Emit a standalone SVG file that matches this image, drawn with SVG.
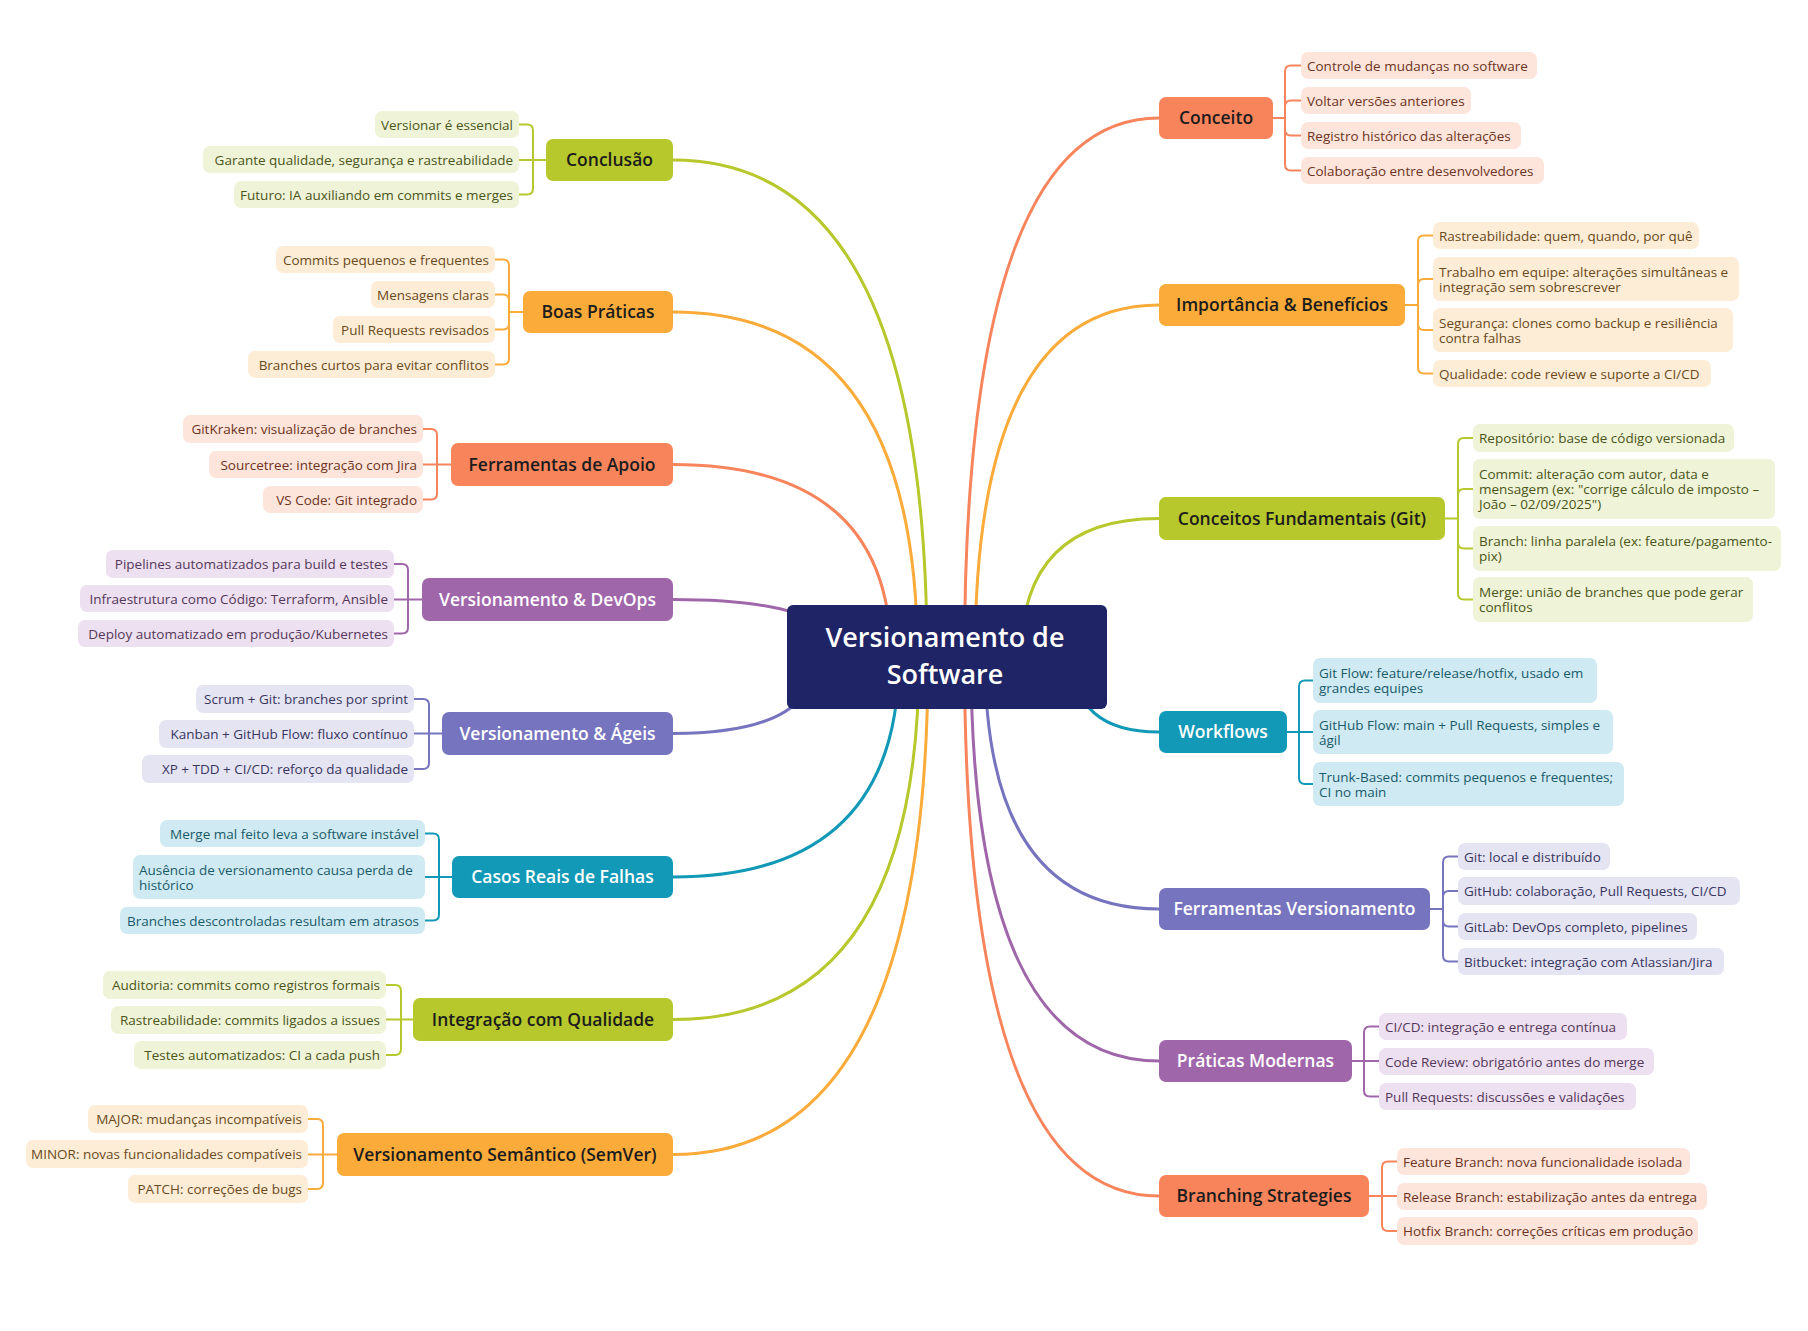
<svg xmlns="http://www.w3.org/2000/svg" width="1808" height="1331" viewBox="0 0 1808 1331">
<style>
text{font-family:'Open Sans','Noto Sans',sans-serif}
.main{font-size:17.5px;font-weight:600;text-anchor:middle}
.dk{fill:#1c1c1c}.wt{fill:#ffffff}
.ch{font-size:13.5px}
.end{text-anchor:end}
.ln{fill:none;stroke-width:3;stroke-linecap:round}
.br{fill:none;stroke-width:2}
.coral{fill:#F8845C}.amber{fill:#FBAB3A}.olive{fill:#B6C82B}.teal{fill:#1299B7}.indigo{fill:#7774BF}.purple{fill:#A066AA}
.s-coral{stroke:#F8845C}.s-amber{stroke:#FBAB3A}.s-olive{stroke:#B6C82B}.s-teal{stroke:#1299B7}.s-indigo{stroke:#7774BF}.s-purple{stroke:#A066AA}
.l-coral{fill:#FDE5DB}.l-amber{fill:#FEEDD6}.l-olive{fill:#EFF3D7}.l-teal{fill:#CFEAF2}.l-indigo{fill:#E5E4F3}.l-purple{fill:#EDE0F0}
.t-coral{fill:#6E3322}.t-amber{fill:#6A4A1C}.t-olive{fill:#4B561A}.t-teal{fill:#1B5B6A}.t-indigo{fill:#38365E}.t-purple{fill:#54385A}
</style>
<rect width="1808" height="1331" fill="#ffffff"/>
<g id="connectors">
<path class="ln s-coral" d="M964.5 657 Q964.5 118 1159 118"/>
<path class="ln s-amber" d="M975 657 Q975 305 1159 305"/>
<path class="ln s-olive" d="M1021 657 Q1021 518.5 1159 518.5"/>
<path class="ln s-teal" d="M1073 657 Q1073 732 1159 732"/>
<path class="ln s-indigo" d="M985 657 Q985 909 1159 909"/>
<path class="ln s-purple" d="M971 657 Q971 1061 1159 1061"/>
<path class="ln s-coral" d="M964.5 657 Q964.5 1196 1159 1196"/>
<path class="ln s-olive" d="M927 657 Q927 160 673 160"/>
<path class="ln s-amber" d="M917.5 657 Q917.5 312 673 312"/>
<path class="ln s-coral" d="M891 657 Q891 464.5 673 464.5"/>
<path class="ln s-purple" d="M839 657 Q839 599.5 673 599.5"/>
<path class="ln s-indigo" d="M816 657 Q816 733.5 673 733.5"/>
<path class="ln s-teal" d="M899 657 Q899 877 673 877"/>
<path class="ln s-olive" d="M919 657 Q919 1019.5 673 1019.5"/>
<path class="ln s-amber" d="M928 657 Q928 1154.5 673 1154.5"/>
<path class="br s-coral" d="M1273 118 H1285 V71.5 Q1285 65.5 1291 65.5 H1301 M1285 118 V106.5 Q1285 100.5 1291 100.5 H1301 M1285 118 V129.5 Q1285 135.5 1291 135.5 H1301 M1285 118 V164.5 Q1285 170.5 1291 170.5 H1301"/>
<path class="br s-amber" d="M1405 305 H1418 V241.5 Q1418 235.5 1424 235.5 H1433 M1418 305 V285 Q1418 279 1424 279 H1433 M1418 305 V324 Q1418 330 1424 330 H1433 M1418 305 V367.5 Q1418 373.5 1424 373.5 H1433"/>
<path class="br s-olive" d="M1445 518.5 H1458 V444 Q1458 438 1464 438 H1473 M1458 518.5 V495 Q1458 489 1464 489 H1473 M1458 518.5 V542.5 Q1458 548.5 1464 548.5 H1473 M1458 518.5 V593.5 Q1458 599.5 1464 599.5 H1473"/>
<path class="br s-teal" d="M1287 732 H1313 M1299 732 V686.5 Q1299 680.5 1305 680.5 H1313 M1299 732 V778 Q1299 784 1305 784 H1313"/>
<path class="br s-indigo" d="M1430 909 H1443 V862.5 Q1443 856.5 1449 856.5 H1458 M1443 909 V897 Q1443 891 1449 891 H1458 M1443 909 V920.5 Q1443 926.5 1449 926.5 H1458 M1443 909 V955.5 Q1443 961.5 1449 961.5 H1458"/>
<path class="br s-purple" d="M1352 1061 H1379 M1364 1061 V1032.5 Q1364 1026.5 1370 1026.5 H1379 M1364 1061 V1090.5 Q1364 1096.5 1370 1096.5 H1379"/>
<path class="br s-coral" d="M1369 1196 H1397 M1382 1196 V1167.5 Q1382 1161.5 1388 1161.5 H1397 M1382 1196 V1225 Q1382 1231 1388 1231 H1397"/>
<path class="br s-olive" d="M546 160 H519 M533 160 V130.5 Q533 124.5 527 124.5 H519 M533 160 V188.5 Q533 194.5 527 194.5 H519"/>
<path class="br s-amber" d="M523 312 H509 V265.5 Q509 259.5 503 259.5 H495 M509 312 V300.5 Q509 294.5 503 294.5 H495 M509 312 V323.5 Q509 329.5 503 329.5 H495 M509 312 V358.5 Q509 364.5 503 364.5 H495"/>
<path class="br s-coral" d="M451 464.5 H423 M437 464.5 V435 Q437 429 431 429 H423 M437 464.5 V493.5 Q437 499.5 431 499.5 H423"/>
<path class="br s-purple" d="M422 599.5 H394 M408 599.5 V570 Q408 564 402 564 H394 M408 599.5 V627.5 Q408 633.5 402 633.5 H394"/>
<path class="br s-indigo" d="M442 733.5 H414 M429 733.5 V705 Q429 699 423 699 H414 M429 733.5 V763 Q429 769 423 769 H414"/>
<path class="br s-teal" d="M452 877 H425 M439 877 V839.5 Q439 833.5 433 833.5 H425 M439 877 V914.5 Q439 920.5 433 920.5 H425"/>
<path class="br s-olive" d="M413 1019.5 H386 M401 1019.5 V991 Q401 985 395 985 H386 M401 1019.5 V1049 Q401 1055 395 1055 H386"/>
<path class="br s-amber" d="M337 1154.5 H308 M323 1154.5 V1125 Q323 1119 317 1119 H308 M323 1154.5 V1183 Q323 1189 317 1189 H308"/>
</g>
<g id="center">
<rect x="787" y="605" width="320" height="104" rx="6" fill="#1F2466"/>
<text x="945" y="647" font-size="27" font-weight="600" text-anchor="middle" fill="#ffffff">Versionamento de<tspan x="945" dy="37">Software</tspan></text>
</g>
<g id="conceito">
<rect class="coral" x="1159" y="97" width="114" height="42" rx="7"/>
<text class="main dk" x="1216" y="124">Conceito</text>
<rect class="l-coral" x="1301" y="52" width="236" height="27" rx="7"/>
<text class="ch t-coral" x="1307" y="70.5">Controle de mudanças no software</text>
<rect class="l-coral" x="1301" y="87" width="170" height="27" rx="7"/>
<text class="ch t-coral" x="1307" y="105.5">Voltar versões anteriores</text>
<rect class="l-coral" x="1301" y="122" width="220" height="27" rx="7"/>
<text class="ch t-coral" x="1307" y="140.5">Registro histórico das alterações</text>
<rect class="l-coral" x="1301" y="157" width="243" height="27" rx="7"/>
<text class="ch t-coral" x="1307" y="175.5">Colaboração entre desenvolvedores</text>
</g>
<g id="importancia">
<rect class="amber" x="1159" y="284" width="246" height="42" rx="7"/>
<text class="main dk" x="1282" y="311">Importância &amp; Benefícios</text>
<rect class="l-amber" x="1433" y="222" width="266" height="27" rx="7"/>
<text class="ch t-amber" x="1439" y="240.5">Rastreabilidade: quem, quando, por quê</text>
<rect class="l-amber" x="1433" y="257" width="306" height="44" rx="7"/>
<text class="ch t-amber" x="1439" y="276.5">Trabalho em equipe: alterações simultâneas e<tspan x="1439" dy="15">integração sem sobrescrever</tspan></text>
<rect class="l-amber" x="1433" y="308" width="300" height="44" rx="7"/>
<text class="ch t-amber" x="1439" y="327.5">Segurança: clones como backup e resiliência<tspan x="1439" dy="15">contra falhas</tspan></text>
<rect class="l-amber" x="1433" y="360" width="278" height="27" rx="7"/>
<text class="ch t-amber" x="1439" y="378.5">Qualidade: code review e suporte a CI/CD</text>
</g>
<g id="conceitos-fundamentais">
<rect class="olive" x="1159" y="497" width="286" height="43" rx="7"/>
<text class="main dk" x="1302" y="524.5">Conceitos Fundamentais (Git)</text>
<rect class="l-olive" x="1473" y="424" width="261" height="28" rx="7"/>
<text class="ch t-olive" x="1479" y="443">Repositório: base de código versionada</text>
<rect class="l-olive" x="1473" y="459" width="302" height="60" rx="7"/>
<text class="ch t-olive" x="1479" y="479">Commit: alteração com autor, data e<tspan x="1479" dy="15">mensagem (ex: "corrige cálculo de imposto –</tspan><tspan x="1479" dy="15">João – 02/09/2025")</tspan></text>
<rect class="l-olive" x="1473" y="526" width="308" height="45" rx="7"/>
<text class="ch t-olive" x="1479" y="546">Branch: linha paralela (ex: feature/pagamento-<tspan x="1479" dy="15">pix)</tspan></text>
<rect class="l-olive" x="1473" y="577" width="280" height="45" rx="7"/>
<text class="ch t-olive" x="1479" y="597">Merge: união de branches que pode gerar<tspan x="1479" dy="15">conflitos</tspan></text>
</g>
<g id="workflows">
<rect class="teal" x="1159" y="711" width="128" height="42" rx="7"/>
<text class="main wt" x="1223" y="738">Workflows</text>
<rect class="l-teal" x="1313" y="658" width="284" height="45" rx="7"/>
<text class="ch t-teal" x="1319" y="678">Git Flow: feature/release/hotfix, usado em<tspan x="1319" dy="15">grandes equipes</tspan></text>
<rect class="l-teal" x="1313" y="710" width="300" height="44" rx="7"/>
<text class="ch t-teal" x="1319" y="729.5">GitHub Flow: main + Pull Requests, simples e<tspan x="1319" dy="15">ágil</tspan></text>
<rect class="l-teal" x="1313" y="762" width="311" height="44" rx="7"/>
<text class="ch t-teal" x="1319" y="781.5">Trunk-Based: commits pequenos e frequentes;<tspan x="1319" dy="15">CI no main</tspan></text>
</g>
<g id="ferramentas-versionamento">
<rect class="indigo" x="1159" y="888" width="271" height="42" rx="7"/>
<text class="main wt" x="1294.5" y="915">Ferramentas Versionamento</text>
<rect class="l-indigo" x="1458" y="843" width="152" height="27" rx="7"/>
<text class="ch t-indigo" x="1464" y="861.5">Git: local e distribuído</text>
<rect class="l-indigo" x="1458" y="877" width="282" height="28" rx="7"/>
<text class="ch t-indigo" x="1464" y="896">GitHub: colaboração, Pull Requests, CI/CD</text>
<rect class="l-indigo" x="1458" y="913" width="239" height="27" rx="7"/>
<text class="ch t-indigo" x="1464" y="931.5">GitLab: DevOps completo, pipelines</text>
<rect class="l-indigo" x="1458" y="948" width="266" height="27" rx="7"/>
<text class="ch t-indigo" x="1464" y="966.5">Bitbucket: integração com Atlassian/Jira</text>
</g>
<g id="praticas-modernas">
<rect class="purple" x="1159" y="1040" width="193" height="42" rx="7"/>
<text class="main wt" x="1255.5" y="1067">Práticas Modernas</text>
<rect class="l-purple" x="1379" y="1013" width="248" height="27" rx="7"/>
<text class="ch t-purple" x="1385" y="1031.5">CI/CD: integração e entrega contínua</text>
<rect class="l-purple" x="1379" y="1048" width="275" height="27" rx="7"/>
<text class="ch t-purple" x="1385" y="1066.5">Code Review: obrigatório antes do merge</text>
<rect class="l-purple" x="1379" y="1083" width="257" height="27" rx="7"/>
<text class="ch t-purple" x="1385" y="1101.5">Pull Requests: discussões e validações</text>
</g>
<g id="branching-strategies">
<rect class="coral" x="1159" y="1175" width="210" height="42" rx="7"/>
<text class="main dk" x="1264" y="1202">Branching Strategies</text>
<rect class="l-coral" x="1397" y="1148" width="293" height="27" rx="7"/>
<text class="ch t-coral" x="1403" y="1166.5">Feature Branch: nova funcionalidade isolada</text>
<rect class="l-coral" x="1397" y="1183" width="310" height="27" rx="7"/>
<text class="ch t-coral" x="1403" y="1201.5">Release Branch: estabilização antes da entrega</text>
<rect class="l-coral" x="1397" y="1217" width="301" height="28" rx="7"/>
<text class="ch t-coral" x="1403" y="1236">Hotfix Branch: correções críticas em produção</text>
</g>
<g id="conclusao">
<rect class="olive" x="546" y="139" width="127" height="42" rx="7"/>
<text class="main dk" x="609.5" y="166">Conclusão</text>
<rect class="l-olive" x="375" y="111" width="144" height="27" rx="7"/>
<text class="ch t-olive end" x="513" y="129.5">Versionar é essencial</text>
<rect class="l-olive" x="203" y="146" width="316" height="27" rx="7"/>
<text class="ch t-olive end" x="513" y="164.5">Garante qualidade, segurança e rastreabilidade</text>
<rect class="l-olive" x="234" y="181" width="285" height="27" rx="7"/>
<text class="ch t-olive end" x="513" y="199.5">Futuro: IA auxiliando em commits e merges</text>
</g>
<g id="boas-praticas">
<rect class="amber" x="523" y="291" width="150" height="42" rx="7"/>
<text class="main dk" x="598" y="318">Boas Práticas</text>
<rect class="l-amber" x="276" y="246" width="219" height="27" rx="7"/>
<text class="ch t-amber end" x="489" y="264.5">Commits pequenos e frequentes</text>
<rect class="l-amber" x="371" y="281" width="124" height="27" rx="7"/>
<text class="ch t-amber end" x="489" y="299.5">Mensagens claras</text>
<rect class="l-amber" x="333" y="316" width="162" height="27" rx="7"/>
<text class="ch t-amber end" x="489" y="334.5">Pull Requests revisados</text>
<rect class="l-amber" x="248" y="351" width="247" height="27" rx="7"/>
<text class="ch t-amber end" x="489" y="369.5">Branches curtos para evitar conflitos</text>
</g>
<g id="ferramentas-apoio">
<rect class="coral" x="451" y="443" width="222" height="43" rx="7"/>
<text class="main dk" x="562" y="470.5">Ferramentas de Apoio</text>
<rect class="l-coral" x="183" y="415" width="240" height="28" rx="7"/>
<text class="ch t-coral end" x="417" y="434">GitKraken: visualização de branches</text>
<rect class="l-coral" x="209" y="451" width="214" height="27" rx="7"/>
<text class="ch t-coral end" x="417" y="469.5">Sourcetree: integração com Jira</text>
<rect class="l-coral" x="263" y="486" width="160" height="27" rx="7"/>
<text class="ch t-coral end" x="417" y="504.5">VS Code: Git integrado</text>
</g>
<g id="devops">
<rect class="purple" x="422" y="578" width="251" height="43" rx="7"/>
<text class="main wt" x="547.5" y="605.5">Versionamento &amp; DevOps</text>
<rect class="l-purple" x="106" y="550" width="288" height="28" rx="7"/>
<text class="ch t-purple end" x="388" y="569">Pipelines automatizados para build e testes</text>
<rect class="l-purple" x="80" y="585" width="314" height="27" rx="7"/>
<text class="ch t-purple end" x="388" y="603.5">Infraestrutura como Código: Terraform, Ansible</text>
<rect class="l-purple" x="78" y="620" width="316" height="27" rx="7"/>
<text class="ch t-purple end" x="388" y="638.5">Deploy automatizado em produção/Kubernetes</text>
</g>
<g id="ageis">
<rect class="indigo" x="442" y="712" width="231" height="43" rx="7"/>
<text class="main wt" x="557.5" y="739.5">Versionamento &amp; Ágeis</text>
<rect class="l-indigo" x="196" y="685" width="218" height="28" rx="7"/>
<text class="ch t-indigo end" x="408" y="704">Scrum + Git: branches por sprint</text>
<rect class="l-indigo" x="159" y="720" width="255" height="28" rx="7"/>
<text class="ch t-indigo end" x="408" y="739">Kanban + GitHub Flow: fluxo contínuo</text>
<rect class="l-indigo" x="142" y="755" width="272" height="28" rx="7"/>
<text class="ch t-indigo end" x="408" y="774">XP + TDD + CI/CD: reforço da qualidade</text>
</g>
<g id="casos-reais">
<rect class="teal" x="452" y="856" width="221" height="42" rx="7"/>
<text class="main wt" x="562.5" y="883">Casos Reais de Falhas</text>
<rect class="l-teal" x="160" y="820" width="265" height="27" rx="7"/>
<text class="ch t-teal end" x="419" y="838.5">Merge mal feito leva a software instável</text>
<rect class="l-teal" x="133" y="855" width="292" height="44" rx="7"/>
<text class="ch t-teal" x="139" y="874.5">Ausência de versionamento causa perda de<tspan x="139" dy="15">histórico</tspan></text>
<rect class="l-teal" x="120" y="907" width="305" height="27" rx="7"/>
<text class="ch t-teal end" x="419" y="925.5">Branches descontroladas resultam em atrasos</text>
</g>
<g id="integracao-qualidade">
<rect class="olive" x="413" y="998" width="260" height="43" rx="7"/>
<text class="main dk" x="543" y="1025.5">Integração com Qualidade</text>
<rect class="l-olive" x="103" y="971" width="283" height="28" rx="7"/>
<text class="ch t-olive end" x="380" y="990">Auditoria: commits como registros formais</text>
<rect class="l-olive" x="111" y="1006" width="275" height="28" rx="7"/>
<text class="ch t-olive end" x="380" y="1025">Rastreabilidade: commits ligados a issues</text>
<rect class="l-olive" x="134" y="1041" width="252" height="28" rx="7"/>
<text class="ch t-olive end" x="380" y="1060">Testes automatizados: CI a cada push</text>
</g>
<g id="semver">
<rect class="amber" x="337" y="1133" width="336" height="43" rx="7"/>
<text class="main dk" x="505" y="1160.5">Versionamento Semântico (SemVer)</text>
<rect class="l-amber" x="88" y="1105" width="220" height="28" rx="7"/>
<text class="ch t-amber end" x="302" y="1124">MAJOR: mudanças incompatíveis</text>
<rect class="l-amber" x="26" y="1140" width="282" height="28" rx="7"/>
<text class="ch t-amber end" x="302" y="1159">MINOR: novas funcionalidades compatíveis</text>
<rect class="l-amber" x="128" y="1175" width="180" height="28" rx="7"/>
<text class="ch t-amber end" x="302" y="1194">PATCH: correções de bugs</text>
</g>
</svg>
